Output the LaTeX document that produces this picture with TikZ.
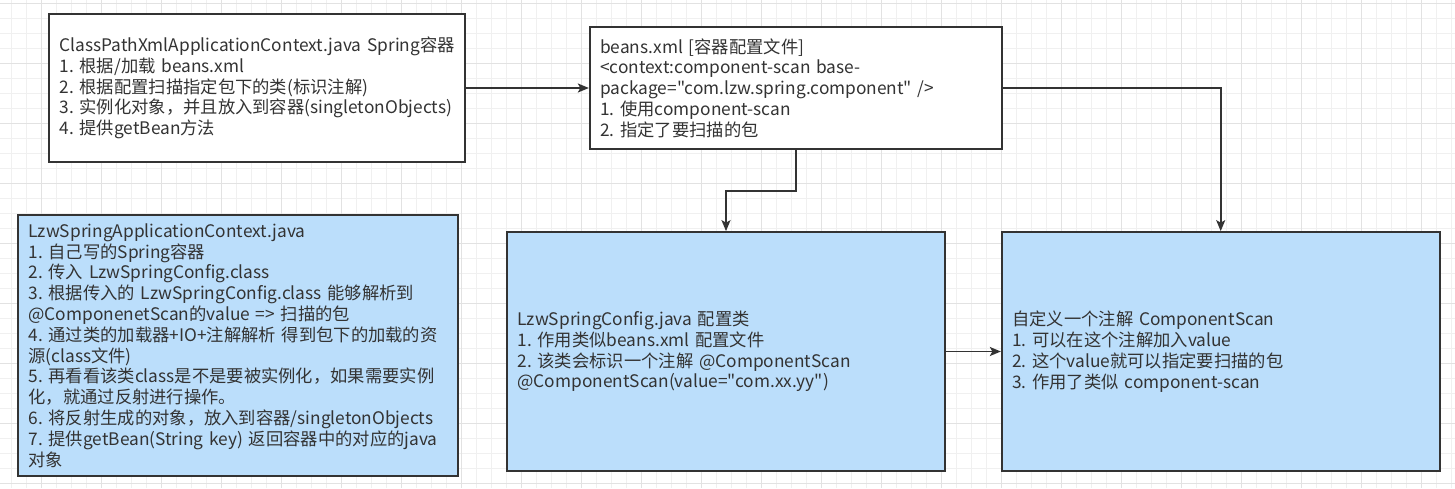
\documentclass[tikz,border=0pt]{standalone}
\usepackage{fontspec}
\newfontfamily\cjk{Noto Sans CJK SC}
\usetikzlibrary{arrows.meta,positioning}
\definecolor{boxblue}{RGB}{187,222,251}
\definecolor{ink}{RGB}{51,51,51}
\definecolor{gridminor}{RGB}{240,240,240}
\definecolor{gridmajor}{RGB}{226,226,226}
\frenchspacing

\begin{document}
\begin{tikzpicture}
    [x=1pt,y=-1pt,->,>={Stealth[length=11pt,width=9pt,inset=2.5pt]},line width=1.7pt,draw=ink,
        box/.style={rectangle,draw=ink,line width=1.7pt,inner xsep=10.5pt,inner ysep=0pt,align=left,text=ink,
            font=\cjk\fontsize{17.3}{20.8}\selectfont},
        plain box/.style={box,fill=white},
        blue box/.style={box,fill=boxblue},
        grid minor/.style={-,draw=gridminor,line width=1pt},
        grid major/.style={-,draw=gridmajor,line width=1pt}]

    \useasboundingbox (0,0) rectangle (1455,488);
    \fill[white] (0,0) rectangle (1455,488);
    \foreach \gx in {11.3,26.3,...,1455} \draw[grid minor] (\gx,0) -- (\gx,488);
    \foreach \gy in {3.3,18.3,...,488} \draw[grid minor] (0,\gy) -- (1455,\gy);
    \foreach \gx in {41.3,101.3,...,1455} \draw[grid major] (\gx,0) -- (\gx,488);
    \foreach \gy in {3.3,63.3,...,488} \draw[grid major] (0,\gy) -- (1455,\gy);

    \node[plain box, minimum width=416pt, minimum height=148pt, text width=395pt] (cpx) at (257,88)
        {ClassPathXmlApplicationContext.java~Spring容器\\
         1. 根据/加载 beans.xml\\
         2. 根据配置扫描指定包下的类(标识注解)\\
         3. 实例化对象，并且放入到容器(singletonObjects)\\
         4. 提供getBean方法};
    \node[plain box, minimum width=412pt, minimum height=122pt, text width=391pt, right=123pt of cpx] (beans)
        {beans.xml [容器配置文件]\\
         <context:component-scan base-\\
         package="com.lzw.spring.component" />\\
         1. 使用component-scan\\
         2. 指定了要扫描的包};
    \node[blue box, minimum width=440pt, minimum height=261pt, text width=419pt] (lzwctx) at (238,345.5)
        {LzwSpringApplicationContext.java\\
         1. 自己写的Spring容器\\
         2. 传入 LzwSpringConfig.class\\
         3. 根据传入的 LzwSpringConfig.class 能够解析到\\
         @ComponenetScan的value => 扫描的包\\
         4. 通过类的加载器+IO+注解解析 得到包下的加载的资\\
         源(class文件)\\
         5. 再看看该类class是不是要被实例化，如果需要实例\\
         化，就通过反射进行操作。\\
         6. 将反射生成的对象，放入到容器/singletonObjects\\
         7. 提供getBean(String key) 返回容器中的对应的java\\
         对象};
    \node[blue box, minimum width=438pt, minimum height=239pt, text width=417pt] (config) at (726,351.5)
        {LzwSpringConfig.java 配置类\\
         1. 作用类似beans.xml 配置文件\\
         2. 该类会标识一个注解 @ComponentScan\\
         @ComponentScan(value="com.xx.yy")};
    \node[blue box, minimum width=438pt, minimum height=239pt, text width=417pt, right=55pt of config] (scan)
        {自定义一个注解 ComponentScan\\
         1. 可以在这个注解加入value\\
         2. 这个value就可以指定要扫描的包\\
         3. 作用了类似 component-scan};

    \draw (cpx) -- (beans);
    \draw (beans.east) -| (scan.north);
    \draw (beans.south) -- ++(0,41) -| (config.north);
    \draw (config) -- (scan);
\end{tikzpicture}
\end{document}
